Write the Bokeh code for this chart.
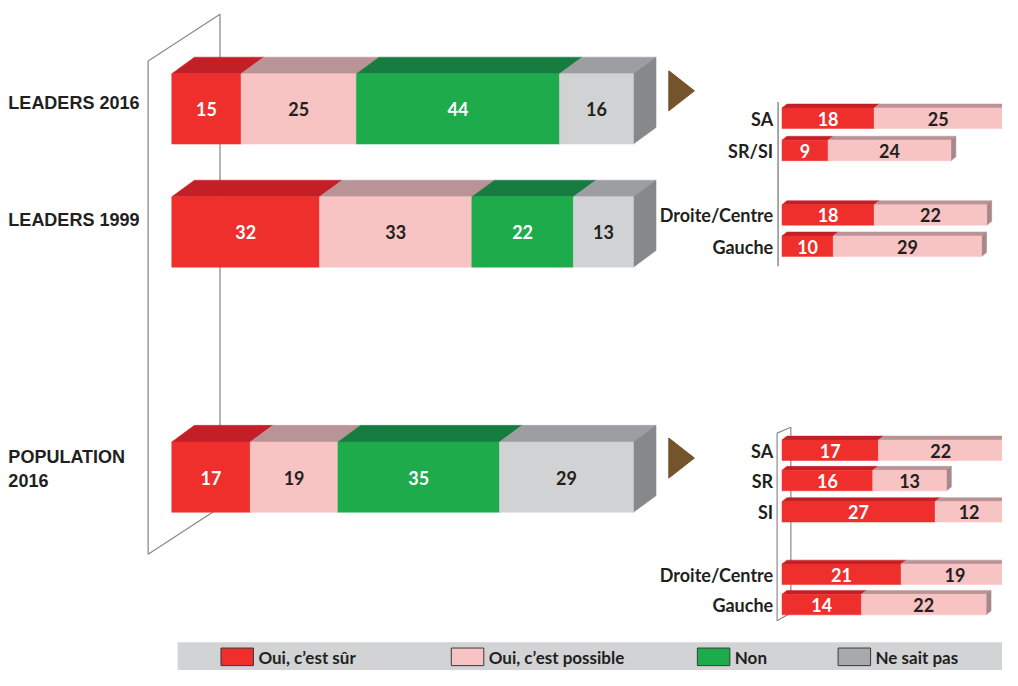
from bokeh.plotting import figure
from bokeh.models import Range1d
from bokeh.core.properties import value
from bokeh.embed import file_html
from bokeh.resources import INLINE

# ---------------- data ----------------
categories = ["Oui, c\u2019est sûr", "Oui, c\u2019est possible", "Non", "Ne sait pas"]
main_groups = ["LEADERS 2016", "LEADERS 1999", "POPULATION\n2016"]
leaders_2016 = [15, 25, 44, 16]
leaders_1999 = [32, 33, 22, 13]
population_2016 = [17, 19, 35, 29]

leaders_sub_labels = ["SA", "SR/SI", "Droite/Centre", "Gauche"]
leaders_sub_sur = [18, 9, 18, 10]
leaders_sub_possible = [25, 24, 22, 29]

pop_sub_labels = ["SA", "SR", "SI", "Droite/Centre", "Gauche"]
pop_sub_sur = [17, 16, 27, 21, 14]
pop_sub_possible = [22, 13, 12, 19, 22]

# ---------------- styles ----------------
FRONT = ["#ee2f2c", "#f8c3c3", "#1dab4b", "#d1d2d4"]
TOP = ["#c31f26", "#ba9397", "#177c40", "#9d9ea2"]
SIDE = ["#a51a20", "#a8878b", "#12683a", "#87888c"]
TXT = ["white", "#231f20", "white", "#231f20"]
LEGEND_SW = ["#ee2f2c", "#f8c3c3", "#1dab4b", "#a7a9ac"]
DARK = "#231f20"
FRAME = "#8c8c8c"
BROWN = "#74542a"

# drawing space in reference pixel units (1018 x 686), rendered into 1002 x 670
REF_W, REF_H = 1018, 686
W, H = 1002, 670
p = figure(width=W, height=H, output_backend="svg", toolbar_location=None,
           x_range=Range1d(0, REF_W), y_range=Range1d(REF_H, 0),
           x_axis_location=None, y_axis_location=None, min_border=0)
p.outline_line_color = None
p.grid.visible = False
p.background_fill_color = "white"
p.border_fill_color = "white"

BOLD_SANS = value("Liberation Sans")
LATO = value("Lato")

# ---------------- transparent plane (frame) ----------------
p.patches(xs=[[150, 223, 223, 150]], ys=[[62, 14, 519, 567]],
          fill_color=None, line_color=FRAME, line_width=1.3)


def bar3d(x0, scale, ytop, height, dx, dy, vals, fronts, tops, sides, txtcols, fsize):
    lefts, rights = [], []
    acc = 0
    for v in vals:
        lefts.append(x0 + acc * scale)
        acc += v
        rights.append(x0 + acc * scale)
    ybot = ytop + height
    # top faces
    p.patches(xs=[[l, l + dx, r + dx, r] for l, r in zip(lefts, rights)],
              ys=[[ytop, ytop - dy, ytop - dy, ytop] for _ in vals],
              fill_color=tops, line_color=tops, line_width=0.5)
    # side of last segment
    r = rights[-1]
    p.patch(x=[r, r + dx, r + dx, r], y=[ytop, ytop - dy, ybot - dy, ybot],
            fill_color=sides[len(vals) - 1], line_color=sides[len(vals) - 1], line_width=0.5)
    # front faces
    p.quad(left=lefts, right=rights, top=[ytop] * len(vals), bottom=[ybot] * len(vals),
           fill_color=fronts, line_color=fronts, line_width=0.5)
    # values
    p.text(x=[(l + r) / 2 for l, r in zip(lefts, rights)], y=[ytop + height / 2 + 0.5] * len(vals),
           text=[str(v) for v in vals], text_color=txtcols, text_align="center",
           text_baseline="middle", text_font=LATO, text_font_style="bold",
           text_font_size=fsize)


# ---------------- main bars ----------------
MAIN_X0, MAIN_SCALE, MAIN_DX, MAIN_DY, MAIN_H = 174, 4.69, 23, 17, 72
main_tops = [75, 201, 452]
for vals, yt in zip([leaders_2016, leaders_1999, population_2016], main_tops):
    bar3d(MAIN_X0, MAIN_SCALE, yt, MAIN_H, MAIN_DX, MAIN_DY, vals, FRONT, TOP, SIDE, TXT, "18px")

# main labels
label_lines = [[105], [225], [467, 491]]
for g, ys in zip(main_groups, label_lines):
    parts = g.split("\n")
    p.text(x=[8] * len(parts), y=ys, text=parts, text_color=DARK, text_align="left",
           text_baseline="middle", text_font=BOLD_SANS, text_font_style="bold",
           text_font_size="18px")

# arrows (triangles)
p.patches(xs=[[679, 679, 705], [679, 679, 705]], ys=[[72, 113, 92.5], [448, 489, 468.5]],
          fill_color=BROWN, line_color=BROWN)

# ---------------- sub panels ----------------
SUB_X0, SUB_DX, SUB_DY, SUB_H = 794, 5, 4, 21
# leaders sub-panel axis
p.line(x=[790, 790], y=[104, 272], line_color=FRAME, line_width=1.5)
# population sub-panel thin frame
p.patches(xs=[[789, 803, 803, 789]], ys=[[443, 437, 627, 635]],
          fill_color=None, line_color=FRAME, line_width=1.2)

lead_tops = [110, 143, 209, 241]
for lab, a, b, yt in zip(leaders_sub_labels, leaders_sub_sur, leaders_sub_possible, lead_tops):
    bar3d(SUB_X0, 5.2, yt, SUB_H, SUB_DX, SUB_DY, [a, b], FRONT[:2], TOP[:2], SIDE[:2], TXT[:2], "18px")
p.text(x=[785] * len(lead_tops), y=[t + SUB_H / 2 + 0.5 for t in lead_tops], text=leaders_sub_labels,
       text_color=DARK, text_align="right", text_baseline="middle", text_font=LATO,
       text_font_style="bold", text_font_size="18px")

pop_tops = [450, 481, 513, 577, 608]
for lab, a, b, yt in zip(pop_sub_labels, pop_sub_sur, pop_sub_possible, pop_tops):
    bar3d(SUB_X0, 5.76, yt, SUB_H, SUB_DX, SUB_DY, [a, b], FRONT[:2], TOP[:2], SIDE[:2], TXT[:2], "18px")
p.text(x=[785] * len(pop_tops), y=[t + SUB_H / 2 + 0.5 for t in pop_tops], text=pop_sub_labels,
       text_color=DARK, text_align="right", text_baseline="middle", text_font=LATO,
       text_font_style="bold", text_font_size="18px")

# ---------------- legend ----------------
p.quad(left=[180], right=[REF_W], top=[657], bottom=[REF_H], fill_color="#d1d3d4", line_color=None)
sw_left = [224, 458, 708, 851]
p.quad(left=sw_left, right=[x + 33 for x in sw_left], top=[663] * 4, bottom=[681] * 4,
       fill_color=LEGEND_SW, line_color="#3a3a3a", line_width=1)
p.text(x=[x + 38 for x in sw_left], y=[672.5] * 4, text=categories, text_color=DARK,
       text_align="left", text_baseline="middle", text_font=LATO, text_font_style="bold",
       text_font_size="17px")

open("out.html", "w").write(file_html(p, INLINE))
